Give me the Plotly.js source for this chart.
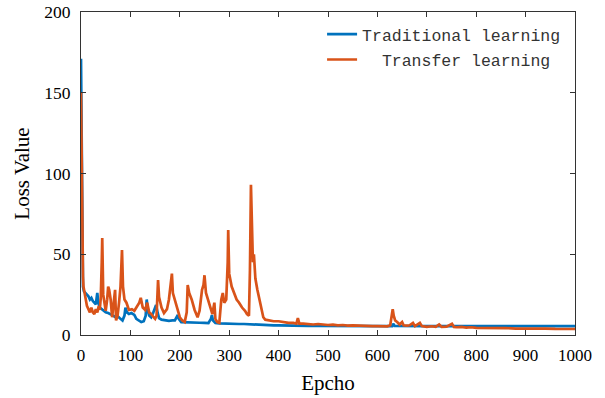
<!DOCTYPE html>
<html>
<head>
<meta charset="utf-8">
<script src="https://cdn.plot.ly/plotly-3.0.1.min.js"></script>
<style>
html,body{margin:0;padding:0;background:#fff;}
#chart{width:605px;height:398px;}
</style>
</head>
<body>
<div id="chart"></div>
<script>
// Traditional learning (blue)
const tradEpoch = [0,1,2,3,4,6,9,12,15,18,21,24,27,30,33,35,38,42,46,50,55,60,65,70,75,80,84,88,90,93,97,102,108,112,117,122,127,131,133,135,138,142,146,149,152,155,158,163,170,178,185,190,196,198,203,210,220,230,240,250,258,263,265,267,272,280,290,300,310,320,330,340,350,360,370,380,390,400,420,440,460,480,500,550,600,630,632,635,650,700,750,800,850,900,950,1000];
const tradLoss  = [171,120,60,38,30,27,26,25,24,22,23,21,20,19,26,20,17,16,15,14,13.6,13,12,11,11.5,10,9,12,17,14,13,13.6,12.4,10,9,8,8.5,12,22,16,12,11,13.6,16.5,18.6,14,10.5,9.5,9,8.8,9,9,12.4,10,8,8,7.8,8,7.6,7.5,7.4,10,12.4,9,7.4,7.2,7,7,6.9,6.8,6.8,6.6,6.6,6.4,6.2,6.2,6.0,6.0,5.8,5.8,5.7,5.7,5.6,5.6,5.5,5.5,7,5.6,5.5,5.5,5.5,5.5,5.5,5.5,5.5,5.5];

// Transfer learning (orange)
const transEpoch = [0,1,2,3,4,5,7,9,12,15,18,21,24,27,30,33,36,38,40,42,43,45,47,50,53,55,57,60,63,66,69,71,74,77,80,83,85,88,92,97,103,108,113,118,121,125,130,134,138,142,147,150,153,156,158,163,168,174,178,181,184,186,190,195,200,205,210,214,216,219,224,230,236,240,245,248,250,253,258,262,266,270,272,276,280,284,287,290,294,297,298,300,305,310,315,320,326,332,336,340,342,344,346,348,350,353,357,361,365,369,373,380,390,400,410,420,430,436,439,442,450,460,470,480,490,500,510,520,530,540,550,560,570,580,590,600,610,620,626,629,631,633,636,640,645,650,653,660,665,672,676,686,690,700,710,718,725,730,740,751,755,760,770,780,790,800,820,840,860,880,900,920,940,960,980,1000];
const transLoss  = [150,110,70,48,36,30,26,22,18,16,14,17,14,13,16,14,18,15.5,23,45,60,25,20,15,22,30,28,22,11,18,28,9,12,20,30,52.6,30,22,20,15.5,16,15,18,20,23,17,15.5,20,14,13,11,10,12,34,23.5,17,13.6,16,22,30,38,26,22,15.5,11,9,8,14,31,26,22,15.5,11,15,28,31,37,26,20,17,13,20,10,8,7.5,22,26,20,22,45,65,38,30,26,22,20,17,15,13,12,40,93,60,45,50,35,28,22,15,11,9.5,9,8.5,8.5,8,7.5,7.5,7,10.5,7,7,6.8,6.5,6.8,6.3,6.2,6.4,6,6.2,5.8,6,5.8,5.6,5.8,5.5,5.5,5.6,5.4,6,12,16,12,9,8,6.5,8,6,5.8,6,7.5,5.5,7.5,5.5,5,5.4,5,6.5,5,5.2,7,5,4.8,5,4.6,4.8,4.4,4.5,4.2,4.3,4,4.1,3.9,4,3.8,3.9,3.7];

const xTicks = [0,100,200,300,400,500,600,700,800,900,1000];
const yTicks = [0,50,100,150,200];

const serif = "Liberation Serif";

const traces = [
  {x: tradEpoch, y: tradLoss, type: 'scatter', mode: 'lines', name: 'Traditional learning',
   legendgroup: 'a', line: {color: '#0072BD', width: 2.7}},
  {x: transEpoch, y: transLoss, type: 'scatter', mode: 'lines', name: '\u00a0\u00a0Transfer learning',
   legendgroup: 'b', line: {color: '#D95319', width: 2.7}}
];

const layout = {
  width: 605, height: 398,
  margin: {l: 81, r: 30, t: 12, b: 63},
  font: {family: serif, size: 17, color: '#000'},
  paper_bgcolor: '#fff', plot_bgcolor: '#fff',
  showlegend: true,
  legend: {x: 0.488, xanchor: 'left', y: 0.985, yanchor: 'top', itemwidth: 30,
           font: {family: "Liberation Mono", size: 16.5, color: '#333'},
           bgcolor: 'rgba(0,0,0,0)', traceorder: 'grouped', tracegroupgap: 1},
  xaxis: {range: [0, 1000], tickmode: 'array', tickvals: xTicks,
          showgrid: false, zeroline: false, showline: true, linecolor: '#333', linewidth: 1,
          mirror: 'ticks', ticks: 'inside', ticklen: 5, tickcolor: '#333',
          ticklabelstandoff: 5,
          tickfont: {family: serif, size: 17, color: '#000'},
          title: {text: 'Epcho', font: {family: serif, size: 21, color: '#000'}, standoff: 10}},
  yaxis: {range: [0, 200], tickmode: 'array', tickvals: yTicks,
          showgrid: false, zeroline: false, showline: true, linecolor: '#333', linewidth: 1,
          mirror: 'ticks', ticks: 'inside', ticklen: 5, tickcolor: '#333',
          ticklabelstandoff: 6,
          tickfont: {family: serif, size: 17.5, color: '#000'},
          title: {text: 'Loss Value', font: {family: serif, size: 21, color: '#000'}, standoff: 8}}
};

Plotly.newPlot('chart', traces, layout, {displayModeBar: false, staticPlot: true});
</script>
</body>
</html>
